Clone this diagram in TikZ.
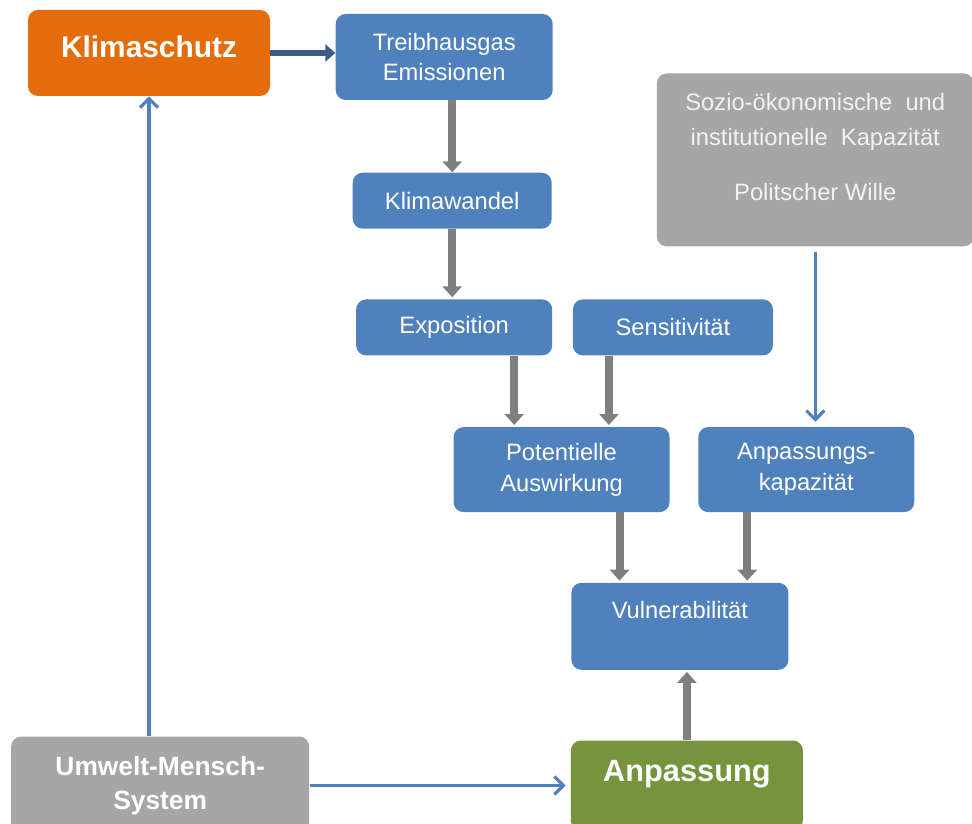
\documentclass[tikz,border=0pt]{standalone}
\usepackage{fontspec}
\setmainfont{Liberation Sans}
\usetikzlibrary{arrows.meta, positioning, calc}
\definecolor{boxblue}{HTML}{4F81BD}
\definecolor{boxorange}{HTML}{E46C0A}
\definecolor{boxgreen}{HTML}{77933C}
\definecolor{boxgray}{HTML}{A6A6A6}
\definecolor{arrowgray}{HTML}{7F7F7F}
\definecolor{darkblue}{HTML}{385D8A}
\tikzstyle{box} = [rectangle, rounded corners=0.2cm, align=center, text=white, font=\fontsize{13.5}{17.5}\selectfont]
\tikzstyle{arrow} = [line width=4.5pt, draw=arrowgray, -{Triangle[width=0.38cm, length=0.22cm]}]

\begin{document}
\begin{tikzpicture}[
  node distance=1.4cm and 0.4cm,
  bluebox/.style={box, fill=boxblue},
  graybox/.style={box, fill=boxgray},
  mainbox/.style={box, font=\fontsize{17}{20}\selectfont\bfseries},
  link/.style={line width=1.8pt, draw=boxblue, -{Straight Barb[width=0.36cm, length=0.18cm]}},
  thickarrow/.style={line width=3.5pt, draw=darkblue, -{Triangle[width=0.34cm, length=0.2cm]}}
]
\useasboundingbox (0,0) rectangle (19.44,-16.46);

% Nodes
\node[mainbox, fill=boxorange, minimum width=4.84cm, minimum height=1.72cm, text height=12pt, text depth=7pt] (klima) at (2.98,-1.06) {Klimaschutz};
\node[bluebox, minimum width=4.34cm, minimum height=1.72cm, right=1.3cm of klima, yshift=-0.08cm] (treib) {Treibhausgas\\ Emissionen};
\node[bluebox, minimum width=3.98cm, minimum height=1.12cm, below=1.44cm of treib, xshift=0.16cm] (wandel) {Klimawandel};
\node[bluebox, minimum width=3.92cm, minimum height=1.12cm, below=of wandel, xshift=0.04cm] (expo) {Exposition};
\node[bluebox, minimum width=4cm, minimum height=1.12cm, right=of expo] (sens) {Sensitivität};
\node[bluebox, minimum width=4.32cm, minimum height=1.7cm, below=1.42cm of expo.south east, xshift=0.18cm] (pot) {Potentielle\\ Auswirkung};
\node[bluebox, minimum width=4.32cm, minimum height=1.7cm, right=0.56cm of pot] (kap) {Anpassungs-\\ kapazität};
\node[graybox, text=white!95!black, font=\fontsize{13.5}{20}\selectfont, minimum width=6.34cm, minimum height=3.46cm, text depth=15pt, above=3.6cm of kap, xshift=0.18cm] (sozio) {Sozio-ökonomische\ \ und\\ institutionelle\ \ Kapazität\\[0.4cm] Politscher Wille};
\coordinate (mid) at ($(pot.south)!0.5!(kap.south)$);
\node[bluebox, minimum width=4.34cm, minimum height=1.74cm, text height=10pt, text depth=19pt, below=1.4cm of mid, xshift=-0.08cm] (vul) {Vulnerabilität};
\node[mainbox, fill=boxgreen, minimum width=4.64cm, minimum height=1.8cm, font=\fontsize{17.5}{20}\selectfont\bfseries, text height=12.5pt, text depth=17pt, below=1.4cm of vul, xshift=0.14cm] (anpass) {Anpassung};
\node[mainbox, fill=boxgray, minimum width=5.96cm, minimum height=1.96cm, font=\fontsize{15}{19}\selectfont\bfseries, left=5.22cm of anpass] (umwelt) {Umwelt-Mensch-\\ System};

% Arrows
\draw[thickarrow] (klima.east |- treib.west) ++(0,0.08) -- ([yshift=0.08cm]treib.west);
\draw[arrow] (wandel.north |- treib.south) -- (wandel.north);
\draw[arrow, shorten >=1pt] (wandel.south) -- (wandel.south |- expo.north);
\draw[arrow, shorten >=1pt] ([xshift=1.2cm]expo.south) -- ([xshift=1.2cm]expo.south |- pot.north);
\draw[arrow, shorten >=1pt] ([xshift=-1.28cm]sens.south) -- ([xshift=-1.28cm]sens.south |- pot.north);
\draw[arrow, shorten >=1pt] ([xshift=1.16cm]pot.south) -- ([xshift=1.16cm]pot.south |- vul.north);
\draw[arrow, shorten >=1pt] ([xshift=-1.18cm]kap.south) -- ([xshift=-1.18cm]kap.south |- vul.north);
\draw[arrow, shorten >=1pt] (anpass.north) -- (anpass.north |- vul.south);
\draw[link, shorten <=0.1cm, shorten >=0.1cm] (sozio.south) -- (sozio.south |- kap.north);
\draw[link] (umwelt.north -| klima.south) -- (klima.south);
\draw[link, shorten >=0.1cm] (umwelt.east) -- (umwelt.east -| anpass.west);

\end{tikzpicture}
\end{document}
